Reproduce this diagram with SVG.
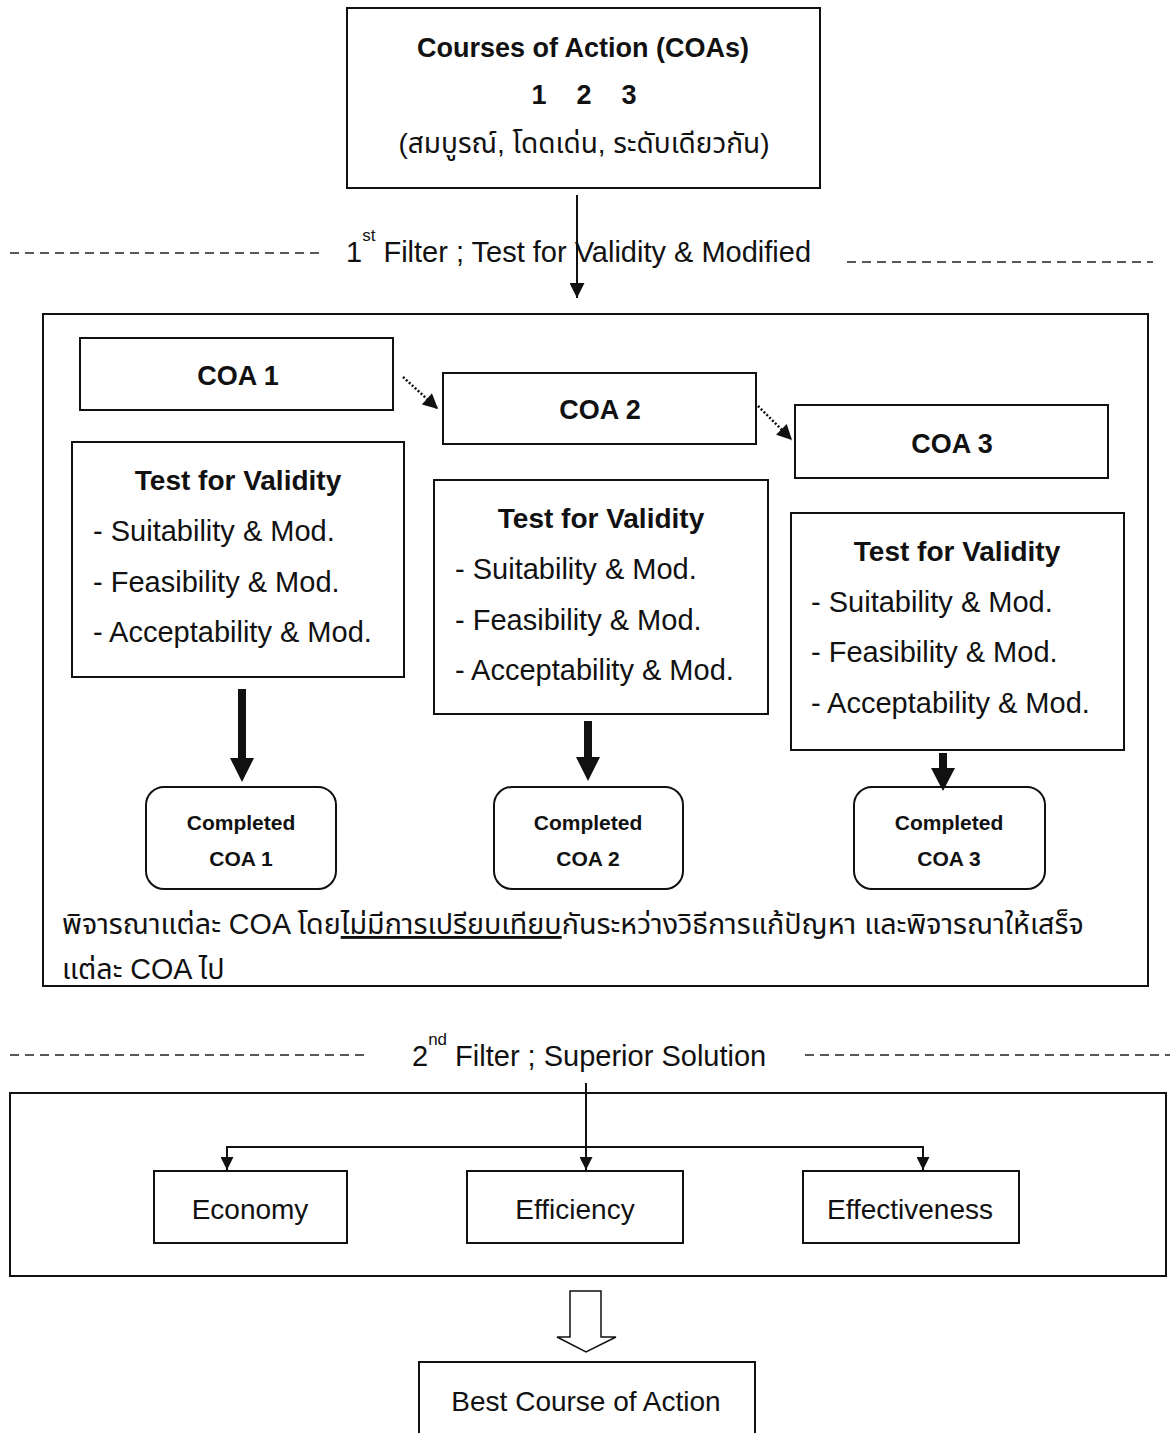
<svg xmlns="http://www.w3.org/2000/svg" width="1173" height="1433" viewBox="0 0 1173 1433">
  <style>
    text { font-family: "Liberation Sans", "Noto Sans", "Noto Sans Thai", "DejaVu Sans", sans-serif; fill: #111; }
    .box { fill: #fff; stroke: #111; stroke-width: 2; }
    .frame { fill: none; stroke: #111; stroke-width: 2; }
    .b { font-weight: bold; }
    .t27 { font-size: 27px; }
    .t28 { font-size: 28px; }
    .t29 { font-size: 29px; }
    .small { font-size: 21px; font-weight: bold; text-anchor: middle; }
    .mid { text-anchor: middle; }
    .dash { stroke: #222; stroke-width: 1.4; stroke-dasharray: 9 6; fill: none; }
    .line { stroke: #111; stroke-width: 2; fill: none; }
    .dot { stroke: #111; stroke-width: 2.5; stroke-dasharray: 2 2; fill: none; }
    .thick { fill: #111; stroke: none; }
  </style>
  <defs>
    <marker id="arr" viewBox="0 0 10 10" refX="10" refY="5" markerWidth="15" markerHeight="15" markerUnits="userSpaceOnUse" orient="auto">
      <path d="M0,0 L10,5 L0,10 z" fill="#111"/>
    </marker>
    <marker id="arrs" viewBox="0 0 10 10" refX="10" refY="5" markerWidth="14" markerHeight="13" markerUnits="userSpaceOnUse" orient="auto">
      <path d="M0,0 L10,5 L0,10 z" fill="#111"/>
    </marker>
    <marker id="arrd" viewBox="0 0 10 10" refX="10" refY="5" markerWidth="18" markerHeight="15" markerUnits="userSpaceOnUse" orient="auto">
      <path d="M0,0 L10,5 L0,10 z" fill="#111"/>
    </marker>
  </defs>

  <!-- filter separators -->
  <g id="filter1">
    <line class="dash" x1="10" y1="253" x2="323" y2="253"/>
    <line class="dash" x1="847" y1="262" x2="1153" y2="262"/>
    <text class="t29" x="346" y="262">1<tspan font-size="17" dy="-21">st</tspan><tspan dy="21"> Filter ; Test for Validity &amp; Modified</tspan></text>
  </g>
  <g id="filter2">
    <line class="dash" x1="10" y1="1055" x2="368" y2="1055"/>
    <line class="dash" x1="805" y1="1055" x2="1170" y2="1055"/>
    <text class="t29" x="412" y="1066">2<tspan font-size="17" dy="-21">nd</tspan><tspan dy="21"> Filter ; Superior Solution</tspan></text>
  </g>

  <!-- nodes -->
  <g id="coas">
    <rect class="box" x="347" y="8" width="473" height="180"/>
    <text class="b t27 mid" x="583" y="57">Courses of Action (COAs)</text>
    <text class="b t27 mid" y="104"><tspan x="539">1</tspan><tspan x="584">2</tspan><tspan x="629">3</tspan></text>
    <text class="t28 mid" x="584" y="153">(สมบูรณ์, โดดเด่น, ระดับเดียวกัน)</text>
  </g>

  <g id="filter1-frame">
    <rect class="frame" x="43" y="314" width="1105" height="672"/>
  </g>

  <g id="coa1">
    <rect class="box" x="80" y="338" width="313" height="72"/>
    <text class="b t27 mid" x="238" y="385">COA 1</text>
  </g>
  <g id="coa2">
    <rect class="box" x="443" y="373" width="313" height="71"/>
    <text class="b t27 mid" x="600" y="419">COA 2</text>
  </g>
  <g id="coa3">
    <rect class="box" x="795" y="405" width="313" height="73"/>
    <text class="b t27 mid" x="952" y="453">COA 3</text>
  </g>

  <g id="test1">
    <rect class="box" x="72" y="442" width="332" height="235"/>
    <text class="b t28 mid" x="238" y="490">Test for Validity</text>
    <text class="t29" x="93" y="541">- Suitability &amp; Mod.</text>
    <text class="t29" x="93" y="592">- Feasibility &amp; Mod.</text>
    <text class="t29" x="93" y="642">- Acceptability &amp; Mod.</text>
  </g>
  <g id="test2">
    <rect class="box" x="434" y="480" width="334" height="234"/>
    <text class="b t28 mid" x="601" y="528">Test for Validity</text>
    <text class="t29" x="455" y="579">- Suitability &amp; Mod.</text>
    <text class="t29" x="455" y="630">- Feasibility &amp; Mod.</text>
    <text class="t29" x="455" y="680">- Acceptability &amp; Mod.</text>
  </g>
  <g id="test3">
    <rect class="box" x="791" y="513" width="333" height="237"/>
    <text class="b t28 mid" x="957" y="561">Test for Validity</text>
    <text class="t29" x="811" y="612">- Suitability &amp; Mod.</text>
    <text class="t29" x="811" y="662">- Feasibility &amp; Mod.</text>
    <text class="t29" x="811" y="713">- Acceptability &amp; Mod.</text>
  </g>

  <g id="done1">
    <rect class="box" x="146" y="787" width="190" height="102" rx="18"/>
    <text class="small" x="241" y="830">Completed</text>
    <text class="small" x="241" y="866">COA 1</text>
  </g>
  <g id="done2">
    <rect class="box" x="494" y="787" width="189" height="102" rx="18"/>
    <text class="small" x="588" y="830">Completed</text>
    <text class="small" x="588" y="866">COA 2</text>
  </g>
  <g id="done3">
    <rect class="box" x="854" y="787" width="191" height="102" rx="18"/>
    <text class="small" x="949" y="830">Completed</text>
    <text class="small" x="949" y="866">COA 3</text>
  </g>

  <g id="note">
    <text font-size="28.7" x="62" y="934">พิจารณาแต่ละ COA โดย<tspan text-decoration="underline">ไม่มีการเปรียบเทียบ</tspan>กันระหว่างวิธีการแก้ปัญหา และพิจารณาให้เสร็จ</text>
    <text font-size="28.7" x="62" y="979">แต่ละ COA ไป</text>
  </g>

  <g id="filter2-frame">
    <rect class="frame" x="10" y="1093" width="1156" height="183"/>
  </g>
  <g id="economy">
    <rect class="box" x="154" y="1171" width="193" height="72"/>
    <text class="t28 mid" x="250" y="1219">Economy</text>
  </g>
  <g id="efficiency">
    <rect class="box" x="467" y="1171" width="216" height="72"/>
    <text class="t28 mid" x="575" y="1219">Efficiency</text>
  </g>
  <g id="effectiveness">
    <rect class="box" x="803" y="1171" width="216" height="72"/>
    <text class="t28 mid" x="910" y="1219">Effectiveness</text>
  </g>

  <g id="best">
    <rect class="box" x="419" y="1362" width="336" height="100"/>
    <text class="t28 mid" x="586" y="1411">Best Course of Action</text>
  </g>

  <!-- connectors -->
  <g id="connectors">
    <line class="line" x1="577" y1="195" x2="577" y2="298" marker-end="url(#arr)"/>
    <line class="dot" x1="403" y1="377" x2="438" y2="409" marker-end="url(#arrd)"/>
    <line class="dot" x1="758" y1="406" x2="792" y2="440" marker-end="url(#arrd)"/>
    <polygon class="thick" points="238,689 246,689 246,758 254,758 242,782 230,758 238,758"/>
    <polygon class="thick" points="584,721 592,721 592,757 600,757 588,781 576,757 584,757"/>
    <polygon class="thick" points="939,753 947,753 947,768 955,768 943,791 931,768 939,768"/>
    <line class="line" x1="586" y1="1083" x2="586" y2="1170" marker-end="url(#arrs)"/>
    <polyline class="line" points="227,1170 227,1147 923,1147 923,1170"/>
    <line class="line" x1="227" y1="1150" x2="227" y2="1170" marker-end="url(#arrs)"/>
    <line class="line" x1="923" y1="1150" x2="923" y2="1170" marker-end="url(#arrs)"/>
    <polygon points="570,1291 601,1291 601,1337 616,1337 586,1352 557,1337 570,1337" fill="#fff" stroke="#111" stroke-width="1.5"/>
  </g>
</svg>
